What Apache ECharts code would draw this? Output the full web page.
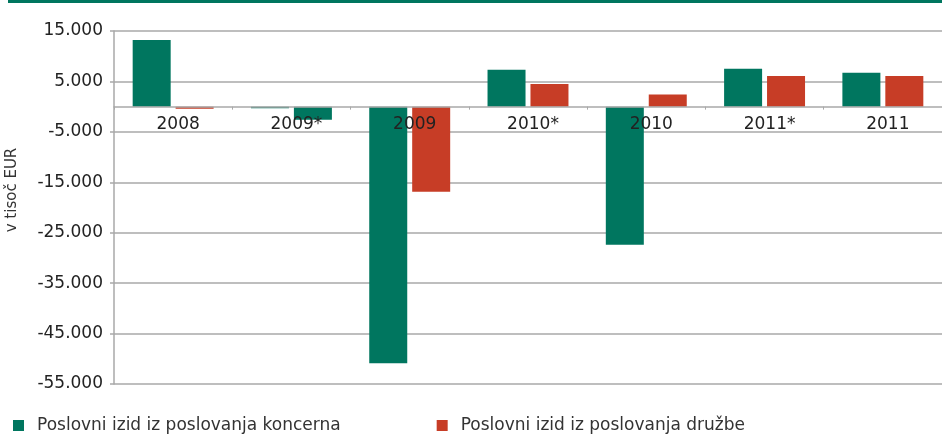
<!DOCTYPE html>
<html>
<head>
<meta charset="utf-8">
<script src="https://cdn.jsdelivr.net/npm/echarts@6/dist/echarts.min.js"></script>
<style>
    html, body { margin: 0; padding: 0; background: #fff; }
    #chart { width: 942px; height: 435px; }
</style>
</head>
<body>
<div id="chart"></div>
<script>
// values (thousand EUR)
var categories = ['2008', '2009*', '2009', '2010*', '2010', '2011*', '2011']
var koncern = [13200, -300, -50900, 7300, -27400, 7500, 6700]
var druzba = [-400, -2600, -16900, 4500, 2400, 6100, 6100]
var yTicks = [15000, 5000, -5000, -15000, -25000, -35000, -45000, -55000]

var green = '#00765f'
var red = '#c73d26'
var grey = '#a9a9a9'
var font = 'DejaVu Sans'

var gridTop = 31
var gridHeight = 353
var yMin = -55000
var yMax = 15000

var chart = echarts.init(document.getElementById('chart'))

function fmt(v) {
    var s = String(Math.abs(v)).replace(/\B(?=(\d{3})+(?!\d))/g, '.')
    return (v < 0 ? '-' : '') + s
}

chart.setOption({
    animation: false,
    textStyle: { fontFamily: font },
    graphic: [
        { type: 'rect', shape: { x: 8, y: 0, width: 934, height: 3 }, style: { fill: green } },
        {
            type: 'text', x: 12, y: 190, rotation: Math.PI / 2,
            style: {
                text: 'v tisoč EUR', fill: '#333', font: '15px "DejaVu Sans"',
                align: 'center', verticalAlign: 'middle'
            }
        }
    ],
    legend: {
        left: 13,
        top: 417,
        padding: 0,
        icon: 'rect',
        itemWidth: 11,
        itemHeight: 11,
        itemGap: 96,
        textStyle: { fontSize: 17, color: '#333', padding: [0, 0, 0, 8] },
        data: ['Poslovni izid iz poslovanja koncerna', 'Poslovni izid iz poslovanja družbe']
    },
    grid: { left: 114, top: gridTop, width: 849, height: gridHeight },
    xAxis: {
        type: 'category',
        data: categories,
        z: 10,
        // the category axis sits on the zero line
        offset: -gridHeight * (0 - yMin) / (yMax - yMin),
        axisLine: { onZero: false, lineStyle: { color: grey, width: 1.5 } },
        axisTick: { show: true, length: 3, lineStyle: { color: grey } },
        axisLabel: { color: '#222', fontSize: 17, margin: 9, padding: [0, 0, 0, 10] }
    },
    yAxis: {
        type: 'value',
        min: yMin,
        max: yMax,
        interval: 10000,
        axisLine: { show: true, lineStyle: { color: grey, width: 1.5 } },
        axisTick: { show: true, length: 4, lineStyle: { color: grey, width: 1.5 } },
        axisLabel: {
            color: '#222', fontSize: 17, margin: 11,
            formatter: function (v) { return yTicks.indexOf(v) >= 0 ? fmt(v) : '' }
        },
        splitLine: { show: true, lineStyle: { color: grey, width: 1.5 } }
    },
    series: [{
        name: 'Poslovni izid iz poslovanja koncerna',
        type: 'bar',
        barWidth: 38,
        barGap: '13%',
        itemStyle: { color: green },
        data: koncern
    }, {
        name: 'Poslovni izid iz poslovanja družbe',
        type: 'bar',
        barWidth: 38,
        itemStyle: { color: red },
        data: druzba.map(function (v, i) {
            // in the source, the 2009* company bar is drawn in green
            return categories[i] === '2009*' ? { value: v, itemStyle: { color: green } } : v
        })
    }]
})
</script>
</body>
</html>
